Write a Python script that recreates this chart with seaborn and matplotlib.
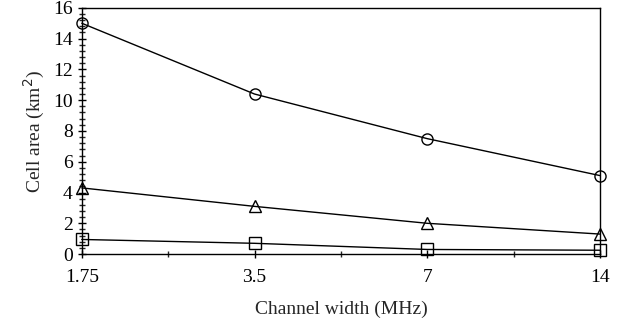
import matplotlib
matplotlib.use("Agg")
import matplotlib.pyplot as plt
from matplotlib.ticker import FixedLocator, AutoMinorLocator, NullFormatter
import numpy as np
import pandas as pd
import seaborn as sns

# channel widths and cell areas
channel_width = [1.75, 3.5, 7, 14]
area_circle = [15.0, 10.4, 7.5, 5.1]
area_triangle = [4.3, 3.1, 2.0, 1.3]
area_square = [0.95, 0.7, 0.3, 0.25]
tick_labels = ["1.75", "3.5", "7", "14"]

sns.set_style("ticks")
plt.rcParams['font.family'] = ['Liberation Serif', 'DejaVu Serif']

df = pd.DataFrame({
    'width': channel_width * 3,
    'area': area_circle + area_triangle + area_square,
    'series': ['circle'] * 4 + ['triangle'] * 4 + ['square'] * 4,
})

fig = plt.figure(figsize=(6.29, 3.27), dpi=100)
ax = fig.add_axes([0.130, 0.223, 0.824, 0.753])

sns.lineplot(data=df, x='width', y='area', style='series',
             markers={'circle': 'o', 'triangle': '^', 'square': 's'},
             dashes=False, color='black', linewidth=1.0, markersize=8,
             markerfacecolor='none', markeredgecolor='black', markeredgewidth=1.0,
             legend=False, ax=ax, clip_on=False)

ax.set_xscale('log', base=2)
ax.set_xlim(1.75, 14)
ax.set_ylim(0, 16)
ax.xaxis.set_major_locator(FixedLocator(channel_width))
ax.set_xticklabels(tick_labels)
minor = [np.sqrt(channel_width[i] * channel_width[i + 1]) for i in range(3)]
ax.xaxis.set_minor_locator(FixedLocator(minor))
ax.xaxis.set_minor_formatter(NullFormatter())
ax.set_yticks(range(0, 17, 2))
ax.yaxis.set_minor_locator(AutoMinorLocator(5))

ax.tick_params(axis='both', which='major', direction='inout', length=6, width=1,
               labelsize=14, colors='black')
ax.tick_params(axis='both', which='minor', direction='inout', length=4, width=1)
ax.tick_params(axis='x', pad=8)
for s in ax.spines.values():
    s.set_linewidth(1.0)
    s.set_color('black')

ax.set_xlabel("Channel width (MHz)", fontsize=14, labelpad=10)
ax.set_ylabel("Cell area (km$^2$)", fontsize=14)

fig.savefig("out.png", dpi=100)
